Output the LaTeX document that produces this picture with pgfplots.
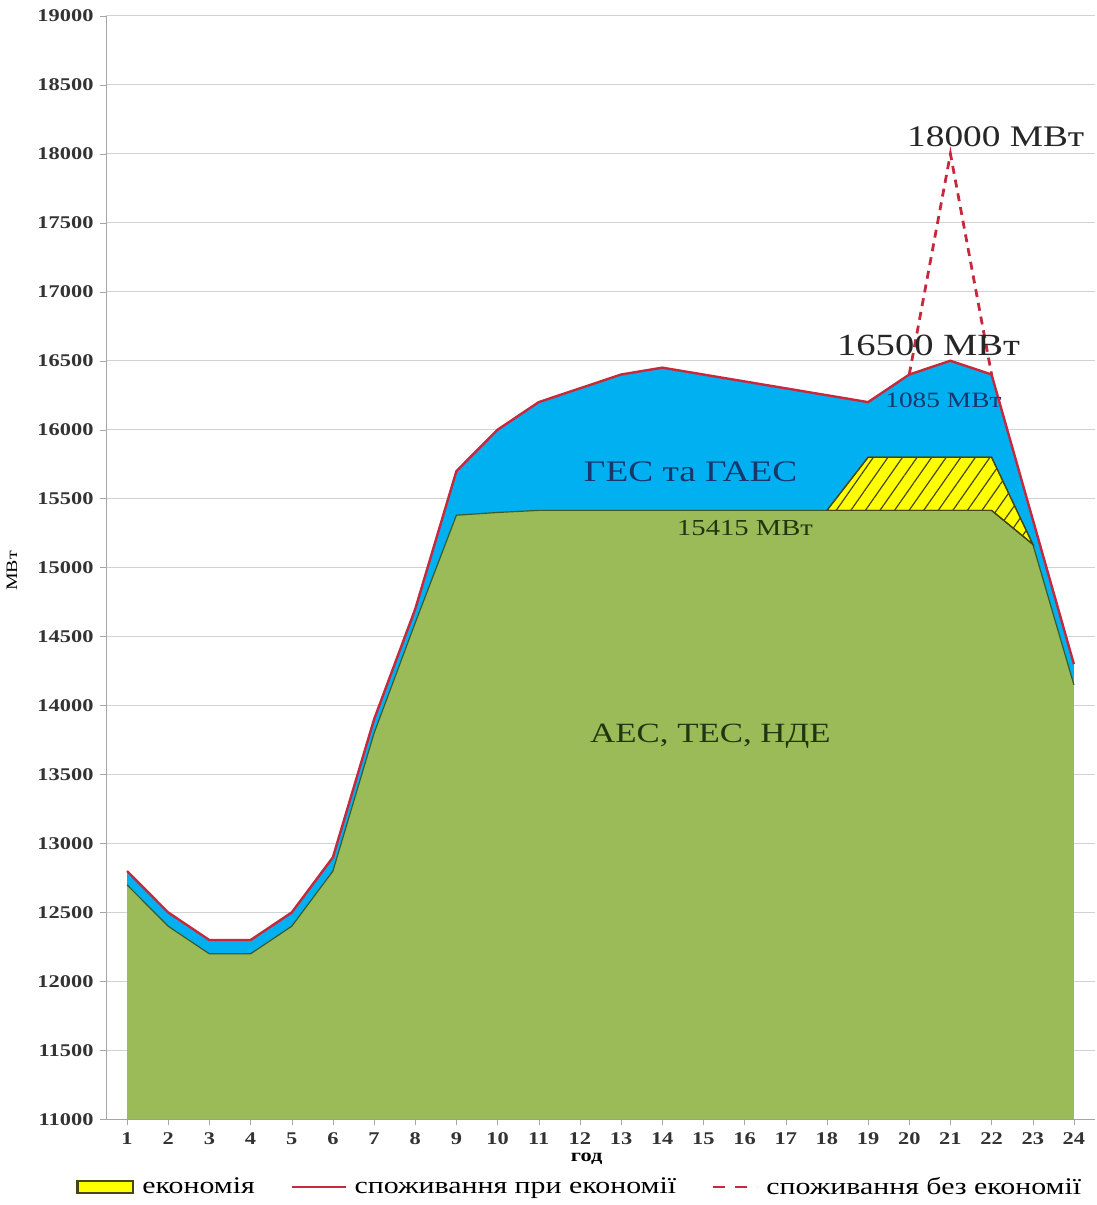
\documentclass[border=0pt]{standalone}
\usepackage{pgfplots}
\pgfplotsset{compat=1.18}
\usepackage{fontspec}
\setmainfont{Liberation Serif}[FakeStretch=1.25]
\usetikzlibrary{patterns.meta}
\definecolor{cblue}{RGB}{0,176,240}
\definecolor{cgreen}{RGB}{155,187,89}
\definecolor{cgreenedge}{RGB}{60,90,40}
\definecolor{cred}{RGB}{200,40,60}
\definecolor{cyel}{RGB}{255,255,0}
\definecolor{cyeledge}{RGB}{70,70,20}
\definecolor{tblue}{RGB}{23,55,110}
\definecolor{tgreen}{RGB}{30,55,15}
\begin{document}
\begin{tikzpicture}
\begin{axis}[
 scale only axis, width=496.5pt, height=554.5pt,
 xmin=0.5, xmax=24.5, ymin=11000, ymax=19000,
 xtick={1,...,24}, ytick={11000,11500,...,19000},
 scaled y ticks=false,
 axis x line*=bottom, axis y line*=left,
 axis line style={color=gray!70, line width=0.6pt, -},
 ymajorgrids, grid style={color=gray!35, line width=0.6pt},
 tick style={color=gray!70},
 tick align=outside, major tick length=3pt,
 /pgf/number format/1000 sep={}, /pgf/number format/assume math mode=true,
 tick label style={font=\fontsize{9}{10}\selectfont\bfseries, color=black!80},
 xlabel={год}, xlabel style={font=\fontsize{9}{10}\selectfont\bfseries, at={(axis description cs:0.486,-0.036)}, anchor=center},
 ylabel={МВт}, ylabel style={font=\fontsize{8}{9}\selectfont, at={(axis description cs:-0.0957,0.497)}, anchor=center},
 legend style={at={(axis description cs:0.48,-0.0613)}, anchor=center, draw=none, fill=none,
   legend columns=3, font=\fontsize{12}{13}\selectfont, /tikz/every even column/.append style={column sep=16pt},
   /tikz/every odd column/.append style={column sep=2pt}},
 legend cell align=left,
]
% blue: total with economy
\addplot[draw=none, fill=cblue, forget plot] coordinates {
 (1,11000) (1,12800) (2,12500) (3,12300) (4,12300) (5,12500) (6,12900) (7,13900) (8,14700)
 (9,15700) (10,16000) (11,16200) (12,16300) (13,16400) (14,16450) (15,16400) (16,16350)
 (17,16300) (18,16250) (19,16200) (20,16400) (21,16500) (22,16400) (23,15350) (24,14300) (24,11000)};
% green base
\addplot[draw=none, fill=cgreen, forget plot] coordinates {
 (1,11000) (1,12700) (2,12400) (3,12200) (4,12200) (5,12400) (6,12800) (7,13800) (8,14600)
 (9,15380) (10,15400) (11,15415) (12,15415) (13,15415) (14,15415) (15,15415) (16,15415)
 (17,15415) (18,15415) (19,15415) (20,15415) (21,15415) (22,15415) (23,15170) (24,14150) (24,11000)};
\addplot[cgreenedge, line width=0.6pt, forget plot] coordinates {
 (1,12700) (2,12400) (3,12200) (4,12200) (5,12400) (6,12800) (7,13800) (8,14600)
 (9,15380) (10,15400) (11,15415) (12,15415) (13,15415) (14,15415) (15,15415) (16,15415)
 (17,15415) (18,15415) (19,15415) (20,15415) (21,15415) (22,15415) (23,15170) (24,14150)};
% economy
\addplot[fill=cyel, draw=cyeledge, line width=0.6pt, forget plot,
  postaction={pattern={Lines[angle=55,distance=6pt,line width=0.6pt]}, pattern color=cyeledge}]
 coordinates {(18,15415) (19,15800) (22,15800) (23,15170) (22,15415) (18,15415)};
% red line
\addplot[cred, line width=1.2pt, forget plot] coordinates {
 (1,12800) (2,12500) (3,12300) (4,12300) (5,12500) (6,12900) (7,13900) (8,14700)
 (9,15700) (10,16000) (11,16200) (12,16300) (13,16400) (14,16450) (15,16400) (16,16350)
 (17,16300) (18,16250) (19,16200) (20,16400) (21,16500) (22,16400) (23,15350) (24,14300)};
% dashed
\addplot[cred, line width=1.4pt, dash pattern=on 4pt off 3pt, forget plot] coordinates {
 (20,16400) (21,18000) (22,16400)};
% legend
\addlegendimage{legend image code/.code={\draw[fill=cyel, draw=cyeledge, line width=1.2pt] (0pt,-3pt) rectangle (28pt,3pt);}}
\addlegendentry{економія}
\addlegendimage{legend image code/.code={\draw[cred, line width=1.2pt] (0pt,0pt) -- (27pt,0pt);}}
\addlegendentry{споживання при економії}
\addlegendimage{legend image code/.code={\draw[cred, line width=1.4pt, dash pattern=on 6pt off 5pt] (0pt,0pt) -- (22pt,0pt);}}
\addlegendentry{споживання без економії}
% annotations
\node[font=\fontsize{15}{16}\selectfont, text=black!85] at (axis cs:22.1,18121) {18000 МВт};
\node[font=\fontsize{15.5}{16}\selectfont, text=black!85] at (axis cs:20.47,16613) {16500 МВт};
\node[font=\fontsize{11}{12}\selectfont, text=tblue] at (axis cs:20.83,16216) {1085 МВт};
\node[font=\fontsize{15}{16}\selectfont, text=tblue] at (axis cs:14.69,15697) {ГЕС та ГАЕС};
\node[font=\fontsize{11.5}{12}\selectfont, text=tgreen] at (axis cs:16.01,15286) {15415 МВт};
\node[font=\fontsize{14}{15}\selectfont, text=tgreen] at (axis cs:15.17,13778) {АЕС, ТЕС, НДЕ};
\end{axis}
\path (current axis.south west) ++(-53.5pt,-40pt) coordinate (bbA);
\path (current axis.north east) ++(1pt,8pt) coordinate (bbB);
\path (bbA) rectangle (bbB);
\end{tikzpicture}
\end{document}
